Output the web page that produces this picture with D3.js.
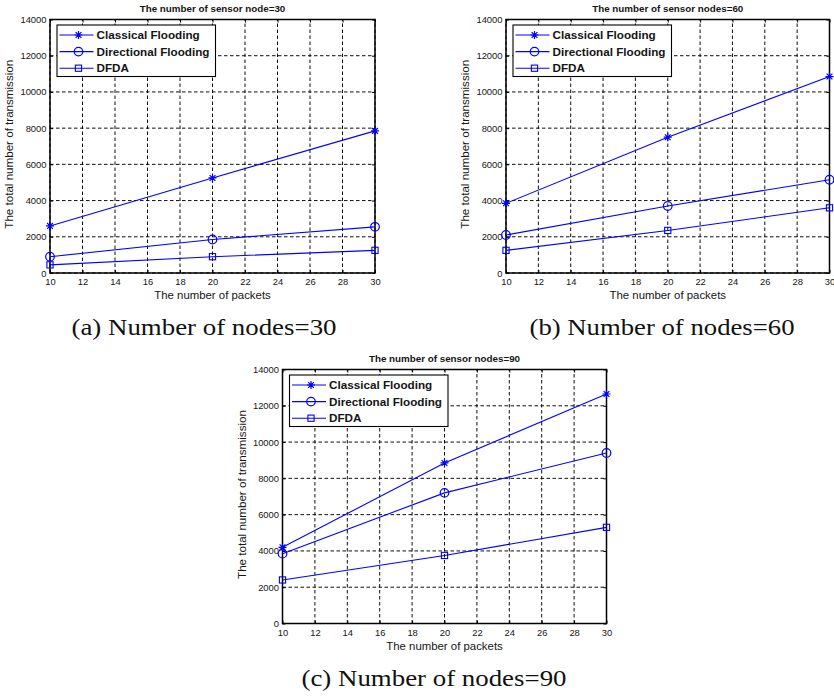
<!DOCTYPE html>
<html>
<head>
<meta charset="utf-8">
<script src="https://cdn.jsdelivr.net/npm/d3@7"></script>
<style>
  html, body { margin: 0; padding: 0; background: #fff; }
  svg { display: block; }
</style>
</head>
<body>
<svg id="fig" width="834" height="696"></svg>
<script>
// Transmission counts versus packet count, for three network sizes
const packets = [10, 20, 30];
const xTicks = [10, 12, 14, 16, 18, 20, 22, 24, 26, 28, 30];
const yTicks = [0, 2000, 4000, 6000, 8000, 10000, 12000, 14000];
const seriesNames = ["Classical Flooding", "Directional Flooding", "DFDA"];
const seriesMarkers = ["star", "circle", "square"];

const classical30 = [2600, 5250, 7850];
const directional30 = [900, 1850, 2550];
const dfda30 = [450, 900, 1250];

const classical60 = [3850, 7500, 10850];
const directional60 = [2100, 3700, 5150];
const dfda60 = [1250, 2350, 3600];

const classical90 = [4200, 8850, 12650];
const directional90 = [3850, 7200, 9400];
const dfda90 = [2400, 3750, 5300];

const panelTitles = [
  "The number of sensor node=30",
  "The number of sensor nodes=60",
  "The number of sensor nodes=90"
];
const panelCaptions = [
  "(a) Number of nodes=30",
  "(b) Number of nodes=60",
  "(c) Number of nodes=90"
];
const xLabel = "The number of packets";
const yLabel = "The total number of transmission";

const panels = [
  { title: panelTitles[0], caption: panelCaptions[0], series: [classical30, directional30, dfda30],
    box: { left: 50, right: 375, top: 19.5, bottom: 273 }, capX: 204, capY: 335 },
  { title: panelTitles[1], caption: panelCaptions[1], series: [classical60, directional60, dfda60],
    box: { left: 506, right: 829.5, top: 19.5, bottom: 273 }, capX: 662, capY: 335 },
  { title: panelTitles[2], caption: panelCaptions[2], series: [classical90, directional90, dfda90],
    box: { left: 282.5, right: 606.5, top: 369.5, bottom: 623.5 }, capX: 434, capY: 686 }
];

const BLUE = "#0000ff";
const INK = "#151515";
const SANS = "'Liberation Sans', Arial, Helvetica, sans-serif";
const SERIF = "'Liberation Serif', 'Times New Roman', serif";

const svg = d3.select("#fig");

function drawMarker(g, type, cx, cy) {
  if (type === "star") {
    const r = 4;
    const d = r * 0.72;
    g.append("path")
      .attr("d", `M${cx - r},${cy}L${cx + r},${cy}M${cx},${cy - r}L${cx},${cy + r}` +
                 `M${cx - d},${cy - d}L${cx + d},${cy + d}M${cx - d},${cy + d}L${cx + d},${cy - d}`)
      .attr("stroke", BLUE).attr("stroke-width", 1.2).attr("fill", "none");
  } else if (type === "circle") {
    g.append("circle").attr("cx", cx).attr("cy", cy).attr("r", 4.3)
      .attr("stroke", BLUE).attr("stroke-width", 1.2).attr("fill", "none");
  } else {
    g.append("rect").attr("x", cx - 3.1).attr("y", cy - 3.1).attr("width", 6.2).attr("height", 6.2)
      .attr("stroke", BLUE).attr("stroke-width", 1.1).attr("fill", "none");
  }
}

panels.forEach(p => {
  const b = p.box;
  const x = d3.scaleLinear().domain([10, 30]).range([b.left, b.right]);
  const y = d3.scaleLinear().domain([0, 14000]).range([b.bottom, b.top]);
  const g = svg.append("g");

  // dashed grid
  const grid = g.append("g").attr("stroke", "#000").attr("stroke-width", 0.95)
    .attr("stroke-dasharray", "3.5,2.5");
  xTicks.forEach(t => grid.append("line")
    .attr("x1", x(t)).attr("x2", x(t)).attr("y1", b.bottom).attr("y2", b.top));
  yTicks.forEach(t => grid.append("line")
    .attr("x1", b.left).attr("x2", b.right).attr("y1", y(t)).attr("y2", y(t)));

  // axes with inward ticks
  const xAxis = g.append("g").attr("transform", `translate(0,${b.bottom})`)
    .call(d3.axisBottom(x).tickValues(xTicks).tickSize(-3).tickPadding(5.5).tickFormat(d3.format("d")));
  const yAxis = g.append("g").attr("transform", `translate(${b.left},0)`)
    .call(d3.axisLeft(y).tickValues(yTicks).tickSize(-3).tickPadding(3.5).tickFormat(d3.format("d")));
  g.append("g").attr("transform", `translate(0,${b.top})`)
    .call(d3.axisTop(x).tickValues(xTicks).tickSize(-3).tickFormat(""));
  g.append("g").attr("transform", `translate(${b.right},0)`)
    .call(d3.axisRight(y).tickValues(yTicks).tickSize(-3).tickFormat(""));
  g.selectAll(".domain").remove();
  g.selectAll(".tick line").attr("stroke", "#000").attr("stroke-width", 1);
  [xAxis, yAxis].forEach(a => a.selectAll("text")
    .attr("font-family", SANS).attr("font-size", 9.4).attr("fill", INK));
  xAxis.selectAll("text").attr("dy", "0.71em");

  // axis box
  g.append("rect").attr("x", b.left).attr("y", b.top)
    .attr("width", b.right - b.left).attr("height", b.bottom - b.top)
    .attr("fill", "none").attr("stroke", "#000").attr("stroke-width", 1.5);

  // series
  const line = d3.line().x((d, i) => x(packets[i])).y(d => y(d));
  p.series.forEach((vals, si) => {
    g.append("path").datum(vals).attr("d", line)
      .attr("fill", "none").attr("stroke", BLUE).attr("stroke-width", 1.1);
    vals.forEach((v, i) => drawMarker(g, seriesMarkers[si], x(packets[i]), y(v)));
  });

  // title
  g.append("text").attr("x", (b.left + b.right) / 2).attr("y", b.top - 7.7)
    .attr("text-anchor", "middle").attr("font-family", SANS).attr("font-weight", "bold")
    .attr("font-size", 9.8).attr("fill", INK).text(p.title);

  // axis labels
  g.append("text").attr("x", (b.left + b.right) / 2).attr("y", b.bottom + 26)
    .attr("text-anchor", "middle").attr("font-family", SANS).attr("font-size", 11.4)
    .attr("fill", INK).text(xLabel);
  g.append("text")
    .attr("transform", `translate(${b.left - 37},${(b.top + b.bottom) / 2 - 2}) rotate(-90)`)
    .attr("text-anchor", "middle").attr("font-family", SANS).attr("font-size", 11.6)
    .attr("fill", INK).text(yLabel);

  // legend
  const lx = b.left + 7, ly = b.top + 5.5;
  const lg = g.append("g");
  lg.append("rect").attr("x", lx).attr("y", ly).attr("width", 158.5).attr("height", 51.5)
    .attr("fill", "#fff").attr("stroke", "#000").attr("stroke-width", 1.1);
  seriesNames.forEach((name, i) => {
    const cy = ly + 10 + i * 16.6;
    lg.append("line").attr("x1", lx + 2.5).attr("x2", lx + 36.5).attr("y1", cy).attr("y2", cy)
      .attr("stroke", BLUE).attr("stroke-width", 1.1);
    drawMarker(lg, seriesMarkers[i], lx + 21.5, cy);
    lg.append("text").attr("x", lx + 39.5).attr("y", cy + 4.2)
      .attr("font-family", SANS).attr("font-weight", "bold").attr("font-size", 11.7)
      .attr("fill", INK).text(name);
  });

  // caption
  svg.append("text").attr("x", p.capX).attr("y", p.capY).attr("text-anchor", "middle")
    .attr("font-family", SERIF).attr("font-size", 23).attr("fill", "#111")
    .attr("textLength", 265).attr("lengthAdjust", "spacingAndGlyphs")
    .text(p.caption);
});
</script>
</body>
</html>
